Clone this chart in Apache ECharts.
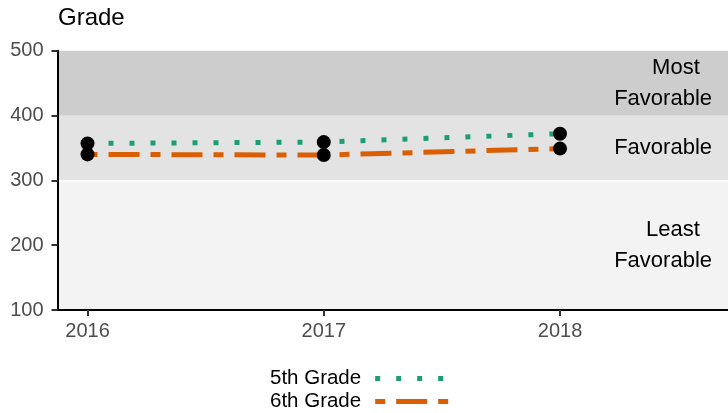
<!DOCTYPE html>
<html><head><meta charset="utf-8">
<script src="https://cdn.jsdelivr.net/npm/echarts@6/dist/echarts.min.js"></script>
<style>html,body{margin:0;padding:0;background:#fff}#c{width:728px;height:413px}</style>
</head><body><div id="c"></div>
<script>
const years = [2016, 2017, 2018];
const grade5 = [357, 359, 372];
const grade6 = [340, 339, 349];
const yTicks = [100, 200, 300, 400, 500];
const bandNames = ['Least  \nFavorable', 'Favorable', 'Most  \nFavorable'];
const bandLimits = [[100, 300], [300, 400], [400, 500]];
const seriesNames = ['5th Grade', '6th Grade'];
const FONT = 'Liberation Sans, Arial, sans-serif';
const bandColors = ['#f3f3f3', '#e3e3e3', '#cdcdcd'];
const lineColors = ['#1b9e77', '#d95f02'];
const dashes = [[5, 16], [10, 11, 31, 11]];

const chart = echarts.init(document.getElementById('c'), null, {renderer: 'canvas'});
const pts5 = years.map((y, i) => [y, grade5[i]]);
const pts6 = years.map((y, i) => [y, grade6[i]]);

chart.setOption({
  animation: false,
  textStyle: {fontFamily: FONT},
  title: {text: 'Grade', left: 58, top: 6, padding: 0,
    textStyle: {fontFamily: FONT, fontSize: 24, fontWeight: 'normal', color: '#000'}},
  grid: {left: 57.5, right: 0, top: 50.7, bottom: 103},
  legend: {
    orient: 'vertical', left: 270, top: 368, align: 'right', padding: 0,
    itemWidth: 80, itemHeight: 20, itemGap: 2,
    itemStyle: {opacity: 0},
    data: seriesNames.map((n, i) => ({
      name: n,
      itemStyle: {opacity: 0},
      lineStyle: {color: lineColors[i], width: 5, type: dashes[i], cap: 'butt', opacity: 1}
    })),
    textStyle: {fontFamily: FONT, fontSize: 20.5, color: '#000', padding: [0, 9, 0, 0]}
  },
  xAxis: {
    type: 'value', min: 2015.873, max: 2018.711, z: 10,
    axisLine: {show: true, onZero: false, lineStyle: {color: '#000', width: 2}},
    axisTick: {show: true, customValues: years, length: 6, lineStyle: {color: '#333', width: 2}},
    axisLabel: {customValues: years, margin: 11, fontSize: 20, color: '#4d4d4d', fontFamily: FONT,
      formatter: v => String(v)},
    splitLine: {show: false}
  },
  yAxis: {
    type: 'value', min: 100, max: 500, interval: 100, z: 10,
    axisLine: {show: true, lineStyle: {color: '#000', width: 2}},
    axisTick: {show: true, customValues: yTicks, length: 6, lineStyle: {color: '#333', width: 2}},
    axisLabel: {customValues: yTicks, margin: 14, fontSize: 20, color: '#4d4d4d', fontFamily: FONT},
    splitLine: {show: false}
  },
  series: [
    {
      name: seriesNames[0], type: 'line', data: pts5, symbol: 'none', z: 3,
      lineStyle: {color: lineColors[0], width: 5, type: dashes[0], cap: 'butt'},
      itemStyle: {color: lineColors[0]},
      markArea: {
        silent: true,
        label: {show: true, position: 'insideRight', distance: 16, align: 'right',
          fontFamily: FONT, fontSize: 22, color: '#000', lineHeight: 31},
        data: bandLimits.map((b, i) => [
          {yAxis: b[0], name: bandNames[i], itemStyle: {color: bandColors[i]}},
          {yAxis: b[1]}
        ])
      },
      markLine: {
        silent: true, symbol: 'none', label: {show: false},
        lineStyle: {color: '#ffffff', width: 1.5, type: 'solid'},
        data: [{yAxis: bandLimits[1][0]}]
      }
    },
    {
      name: seriesNames[1], type: 'line', data: pts6, symbol: 'none', z: 3,
      lineStyle: {color: lineColors[1], width: 5, type: dashes[1], cap: 'butt'},
      itemStyle: {color: lineColors[1]}
    },
    {
      type: 'scatter', data: pts5.concat(pts6), symbol: 'circle', symbolSize: 14, z: 5,
      itemStyle: {color: '#000', opacity: 1}
    }
  ]
});
</script></body></html>
